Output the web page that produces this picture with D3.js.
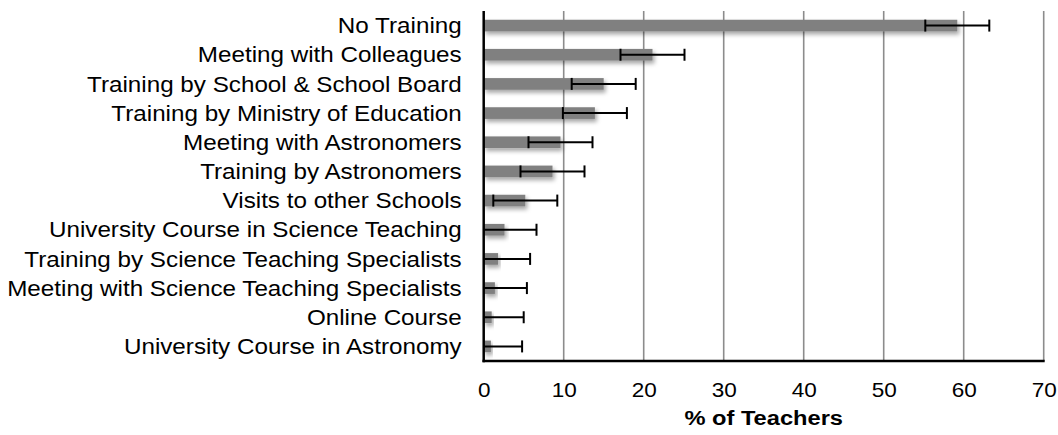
<!DOCTYPE html>
<html>
<head>
<meta charset="utf-8">
<script src="https://cdn.jsdelivr.net/npm/d3@7"></script>
<style>
  html, body { margin: 0; padding: 0; background: #fff; }
  svg { display: block; font-family: "Liberation Sans", Arial, sans-serif; }
</style>
</head>
<body>
<svg id="chart" width="1058" height="435"></svg>
<script>
const categories = [
  "No Training",
  "Meeting with Colleagues",
  "Training by School & School Board",
  "Training by Ministry of Education",
  "Meeting with Astronomers",
  "Training by Astronomers",
  "Visits to other Schools",
  "University Course in Science Teaching",
  "Training by Science Teaching Specialists",
  "Meeting with Science Teaching Specialists",
  "Online Course",
  "University Course in Astronomy"
];
const values = [59.2, 21.1, 15.0, 13.9, 9.6, 8.6, 5.2, 2.6, 1.8, 1.4, 1.0, 0.9];
const errors = [4.0, 4.0, 4.0, 4.0, 4.0, 4.0, 4.0, 4.0, 4.0, 4.0, 4.0, 3.9];
const xTicks = [0, 10, 20, 30, 40, 50, 60, 70];
const xTitle = "% of Teachers";

const svg = d3.select("#chart");
const mLeft = 483.7, mRight = 1043.7, mTop = 11, mBottom = 361;
const sx = 1.127; // horizontal text stretch seen in the reference

const x = d3.scaleLinear().domain([0, 70]).range([mLeft, mRight]);
const y = d3.scaleBand().domain(categories).range([mTop, mBottom]).paddingInner(0.6).paddingOuter(0.3);

const defs = svg.append("defs");
const f = defs.append("filter").attr("id", "shadow")
  .attr("x", "-20%").attr("y", "-60%").attr("width", "140%").attr("height", "260%");
f.append("feDropShadow").attr("dx", 2).attr("dy", 3).attr("stdDeviation", 2.2)
  .attr("flood-color", "#000").attr("flood-opacity", 0.35);

// gridlines
svg.append("g").selectAll("line").data(xTicks.filter(d => d > 0)).join("line")
  .attr("x1", d => x(d)).attr("x2", d => x(d))
  .attr("y1", mTop).attr("y2", mBottom)
  .attr("stroke", "#8c8c8c").attr("stroke-width", 1.6);

// bars
svg.append("g").selectAll("rect").data(categories).join("rect")
  .attr("x", x(0))
  .attr("y", d => y(d))
  .attr("width", (d, i) => x(values[i]) - x(0))
  .attr("height", y.bandwidth())
  .attr("fill", "#808080")
  .attr("filter", "url(#shadow)");

// error bars
const eg = svg.append("g").attr("stroke", "#000").attr("stroke-width", 2);
categories.forEach((c, i) => {
  const cy = y(c) + y.bandwidth() / 2;
  const lo = values[i] - errors[i];
  const hi = values[i] + errors[i];
  const loC = Math.max(0, lo);
  eg.append("line").attr("x1", x(loC)).attr("x2", x(hi)).attr("y1", cy).attr("y2", cy);
  if (lo >= 0) {
    eg.append("line").attr("x1", x(lo)).attr("x2", x(lo)).attr("y1", cy - 6).attr("y2", cy + 6);
  }
  eg.append("line").attr("x1", x(hi)).attr("x2", x(hi)).attr("y1", cy - 6).attr("y2", cy + 6);
});

// axes lines
svg.append("line").attr("x1", mLeft).attr("x2", mLeft).attr("y1", mTop).attr("y2", mBottom + 1.2)
  .attr("stroke", "#000").attr("stroke-width", 2.5);
svg.append("line").attr("x1", mLeft - 1.2).attr("x2", mRight + 1).attr("y1", mBottom).attr("y2", mBottom)
  .attr("stroke", "#000").attr("stroke-width", 2.5);

// x axis via d3 axis (tick labels)
const xAxis = d3.axisBottom(x).tickValues(xTicks).tickSize(0).tickPadding(0);
const ag = svg.append("g").attr("transform", `translate(0,${mBottom})`).call(xAxis);
ag.select(".domain").remove();
ag.selectAll(".tick text").attr("dy", null).attr("y", 0)
  .attr("transform", `translate(0,36) scale(${sx},1)`)
  .attr("font-size", 20)
  .attr("font-family", "Liberation Sans, Arial, sans-serif").attr("fill", "#000");

// category labels
svg.append("g").selectAll("text").data(categories).join("text")
  .attr("transform", d => `translate(461.7,${y(d) + y.bandwidth() / 2 + 7.7}) scale(${sx},1)`)
  .attr("text-anchor", "end")
  .attr("font-size", 21.5)
  .attr("fill", "#000")
  .text(d => d);

// axis title
svg.append("text")
  .attr("transform", `translate(${(mLeft + mRight) / 2},425) scale(${sx},1)`)
  .attr("text-anchor", "middle").attr("font-size", 21).attr("font-weight", "bold")
  .text(xTitle);
</script>
</body>
</html>
